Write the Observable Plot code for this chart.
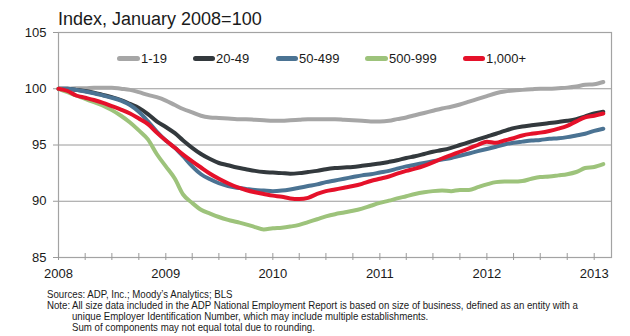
<!DOCTYPE html>
<html>
<head>
<meta charset="utf-8">
<script src="https://cdn.jsdelivr.net/npm/d3@7"></script>
<script src="https://cdn.jsdelivr.net/npm/@observablehq/plot@0.6"></script>
<style>
  html, body { margin: 0; padding: 0; background: #fff; }
  #wrap { position: relative; width: 630px; height: 336px; overflow: hidden; font-family: "Liberation Sans", Arial, sans-serif; color: #1a1a1a; }
  #title { position: absolute; left: 58px; top: 10px; font-size: 18px; line-height: 18px; white-space: nowrap; }
  #chart { position: absolute; left: 0; top: 0; }
  .lg-sw { position: absolute; height: 5px; border-radius: 2.5px; top: 56px; }
  .lg-tx { position: absolute; top: 52px; font-size: 13px; line-height: 13px; white-space: nowrap; }
  #notes { position: absolute; left: 47px; top: 288.5px; width: max-content; font-family: "Liberation Sans", Arial, sans-serif; font-size: 10.5px; line-height: 11px; color: #1a1a1a; white-space: nowrap; transform-origin: 0 0; }
  #notes span.line { display: inline-block; }
</style>
</head>
<body>
<div id="wrap">
  <div id="chart"></div>
  <div id="title">Index, January 2008=100</div>
  <div id="legend"></div>
  <div id="notes"></div>
</div>
<script>
// ---- data ----
const seriesNames = ["1-19", "20-49", "50-499", "500-999", "1,000+"];
const seriesColors = ["#a6a6a6", "#33393d", "#4b7393", "#9dc37b", "#e5112a"];
const startMonth = Date.UTC(2008, 0, 1);

const s1_19 = [
  100.0, 100.0, 100.05, 100.05, 100.1, 100.1, 100.1, 100.0, 99.9, 99.7, 99.45, 99.25,
  98.95, 98.55, 98.2, 97.9, 97.6, 97.45, 97.4, 97.35, 97.3, 97.3, 97.25, 97.2,
  97.15, 97.15, 97.2, 97.25, 97.3, 97.3, 97.3, 97.3, 97.25, 97.2, 97.15, 97.1,
  97.1, 97.15, 97.3, 97.45, 97.65, 97.85, 98.05, 98.25, 98.4, 98.6, 98.85, 99.1,
  99.35, 99.6, 99.75, 99.85, 99.9, 99.95, 100.0, 100.0, 100.05, 100.1, 100.2, 100.35,
  100.4, 100.6
];
const s20_49 = [
  100.0, 100.0, 99.9, 99.8, 99.65, 99.45, 99.25, 99.0, 98.65, 98.3, 97.75, 97.1,
  96.6, 96.05, 95.4, 94.75, 94.2, 93.75, 93.4, 93.2, 93.0, 92.85, 92.7, 92.6,
  92.55, 92.5, 92.45, 92.5, 92.6, 92.7, 92.85, 92.95, 93.0, 93.05, 93.15, 93.25,
  93.35, 93.5, 93.65, 93.85, 94.0, 94.2, 94.4, 94.55, 94.75, 95.0, 95.25, 95.5,
  95.75, 96.0, 96.25, 96.5, 96.65, 96.75, 96.85, 96.95, 97.05, 97.15, 97.3, 97.55,
  97.8, 97.95
];
const s50_499 = [
  100.0, 100.0, 99.9, 99.75, 99.6, 99.4, 99.2, 98.95, 98.55, 97.95, 97.1, 96.2,
  95.4, 94.75, 94.0, 93.1, 92.4, 91.95, 91.6, 91.35, 91.2, 91.1, 91.0, 90.95,
  90.9, 90.95, 91.05, 91.2, 91.35, 91.5, 91.7, 91.85, 92.0, 92.15, 92.3, 92.4,
  92.55, 92.7, 92.9, 93.1, 93.25, 93.4, 93.55, 93.7, 93.85, 94.05, 94.25, 94.45,
  94.65, 94.85, 95.05, 95.2, 95.3, 95.4, 95.45, 95.55, 95.6, 95.7, 95.85, 96.0,
  96.25, 96.45
];
const s500_999 = [
  100.0, 99.7, 99.4, 99.1, 98.8, 98.5, 98.1, 97.6, 97.0, 96.3, 95.5, 94.2,
  93.1, 92.0, 90.6, 89.85, 89.25, 88.9, 88.6, 88.35, 88.15, 87.95, 87.7, 87.5,
  87.6, 87.65, 87.75, 87.9, 88.15, 88.4, 88.65, 88.85, 89.0, 89.15, 89.35, 89.6,
  89.85, 90.05, 90.25, 90.45, 90.65, 90.8, 90.9, 90.95, 90.9, 91.0, 91.0, 91.25,
  91.5, 91.7, 91.75, 91.75, 91.8, 92.0, 92.15, 92.2, 92.3, 92.4, 92.6, 92.95,
  93.05, 93.3
];
const s1000 = [
  100.0, 99.8, 99.4, 99.2, 99.0, 98.75, 98.45, 98.15, 97.8, 97.35, 96.85, 96.1,
  95.4, 94.75, 94.15, 93.55, 93.0, 92.45, 92.0, 91.6, 91.25, 91.0, 90.8, 90.65,
  90.5, 90.4, 90.25, 90.2, 90.3, 90.65, 90.9, 91.05, 91.2, 91.35, 91.55, 91.8,
  92.0, 92.2, 92.45, 92.7, 92.9, 93.15, 93.45, 93.8, 94.1, 94.4, 94.7, 95.0,
  95.3, 95.2, 95.4, 95.6, 95.85, 96.0, 96.1, 96.25, 96.45, 96.7, 97.1, 97.45,
  97.6, 97.8
];
const seriesValues = [s1_19, s20_49, s50_499, s500_999, s1000];

const yTicks = [85, 90, 95, 100, 105];
const yGrid = [90, 95, 100];
const yearTicks = [2008, 2009, 2010, 2011, 2012, 2013];

const sourceLine = "Sources: ADP, Inc.; Moody\u2019s Analytics; BLS";
const noteLabel = "Note:";
const noteLines = [
  "All size data included in the ADP National Employment Report is based on size of business, defined as an entity with a",
  "unique Employer Identification Number, which may include multiple establishments.",
  "Sum of components may not equal total due to rounding."
];

// ---- build table ----
const rows = [];
seriesValues.forEach((vals, si) => {
  vals.forEach((v, i) => {
    rows.push({ date: d3.utcMonth.offset(new Date(startMonth), i), value: v, series: seriesNames[si] });
  });
});
const yearDates = yearTicks.map(y => new Date(Date.UTC(y, 0, 1)));
const quarterDates = d3.utcMonth.every(3).range(new Date(Date.UTC(2008, 0, 1)), new Date(Date.UTC(2013, 0, 2)));

const chart = Plot.plot({
  width: 630,
  height: 285,
  marginLeft: 58,
  marginRight: 19,
  marginTop: 32,
  marginBottom: 28,
  style: { fontFamily: "'Liberation Sans', Arial, sans-serif", fontSize: "13px", color: "#1a1a1a", background: "transparent", overflow: "visible" },
  x: { type: "utc", domain: [new Date(Date.UTC(2008, 0, 1)), new Date(Date.UTC(2013, 2, 1))] },
  y: { domain: [85, 105] },
  color: { domain: seriesNames, range: seriesColors },
  marks: [
    Plot.gridY(yGrid, { stroke: "#9a9a9a", strokeOpacity: 1, strokeWidth: 1 }),
    Plot.frame({ stroke: "#a3a3a3", strokeWidth: 1.2 }),
    Plot.axisY(yTicks, { tickSize: 5, tickPadding: 7, stroke: "#9a9a9a", fontSize: 13, label: null }),
    Plot.axisX(quarterDates, { tickSize: 7, dy: -4, stroke: "#9a9a9a", tickFormat: () => "", label: null }),
    Plot.axisX(yearDates, { tickSize: 0, tickPadding: 11, tickFormat: "%Y", fontSize: 13, label: null }),
    Plot.line(rows, { x: "date", y: "value", z: "series", stroke: "series", strokeWidth: 4, strokeLinejoin: "round", strokeLinecap: "round", curve: "monotone-x" })
  ]
});
document.getElementById("chart").appendChild(chart);

// ---- legend (HTML overlay) ----
const legendPos = [[117, 141], [193, 216], [276, 299], [365, 389], [463, 486]];
const lg = document.getElementById("legend");
seriesNames.forEach((name, i) => {
  const sw = document.createElement("div");
  sw.className = "lg-sw";
  sw.style.left = legendPos[i][0] + "px";
  sw.style.width = (legendPos[i][1] - legendPos[i][0] - 1) + "px";
  sw.style.background = seriesColors[i];
  lg.appendChild(sw);
  const tx = document.createElement("div");
  tx.className = "lg-tx";
  tx.style.left = legendPos[i][1] + "px";
  tx.textContent = name;
  lg.appendChild(tx);
});

// ---- notes (condensed to fit like the original narrow font) ----
const notes = document.getElementById("notes");
function addLine(label, text) {
  const d = document.createElement("div");
  const lab = document.createElement("span");
  lab.className = "lab";
  lab.style.display = "inline-block";
  lab.textContent = label;
  const t = document.createElement("span");
  t.className = "line";
  t.textContent = text;
  d.appendChild(lab); d.appendChild(t);
  notes.appendChild(d);
  return { d, lab, t };
}
const r0 = document.createElement("div"); r0.textContent = sourceLine; notes.appendChild(r0);
const r1 = addLine(noteLabel, noteLines[0]);
const r2 = addLine("", noteLines[1]);
const r3 = addLine("", noteLines[2]);
// measure & scale so the first note line ends where it does in the original
const textW = r1.t.getBoundingClientRect().width;
const s = (578 - 72) / textW;
const indent = (72 - 47) / s;
[r1, r2, r3].forEach(r => { r.lab.style.width = indent + "px"; });
notes.style.transform = `scaleX(${s})`;
</script>
</body>
</html>
